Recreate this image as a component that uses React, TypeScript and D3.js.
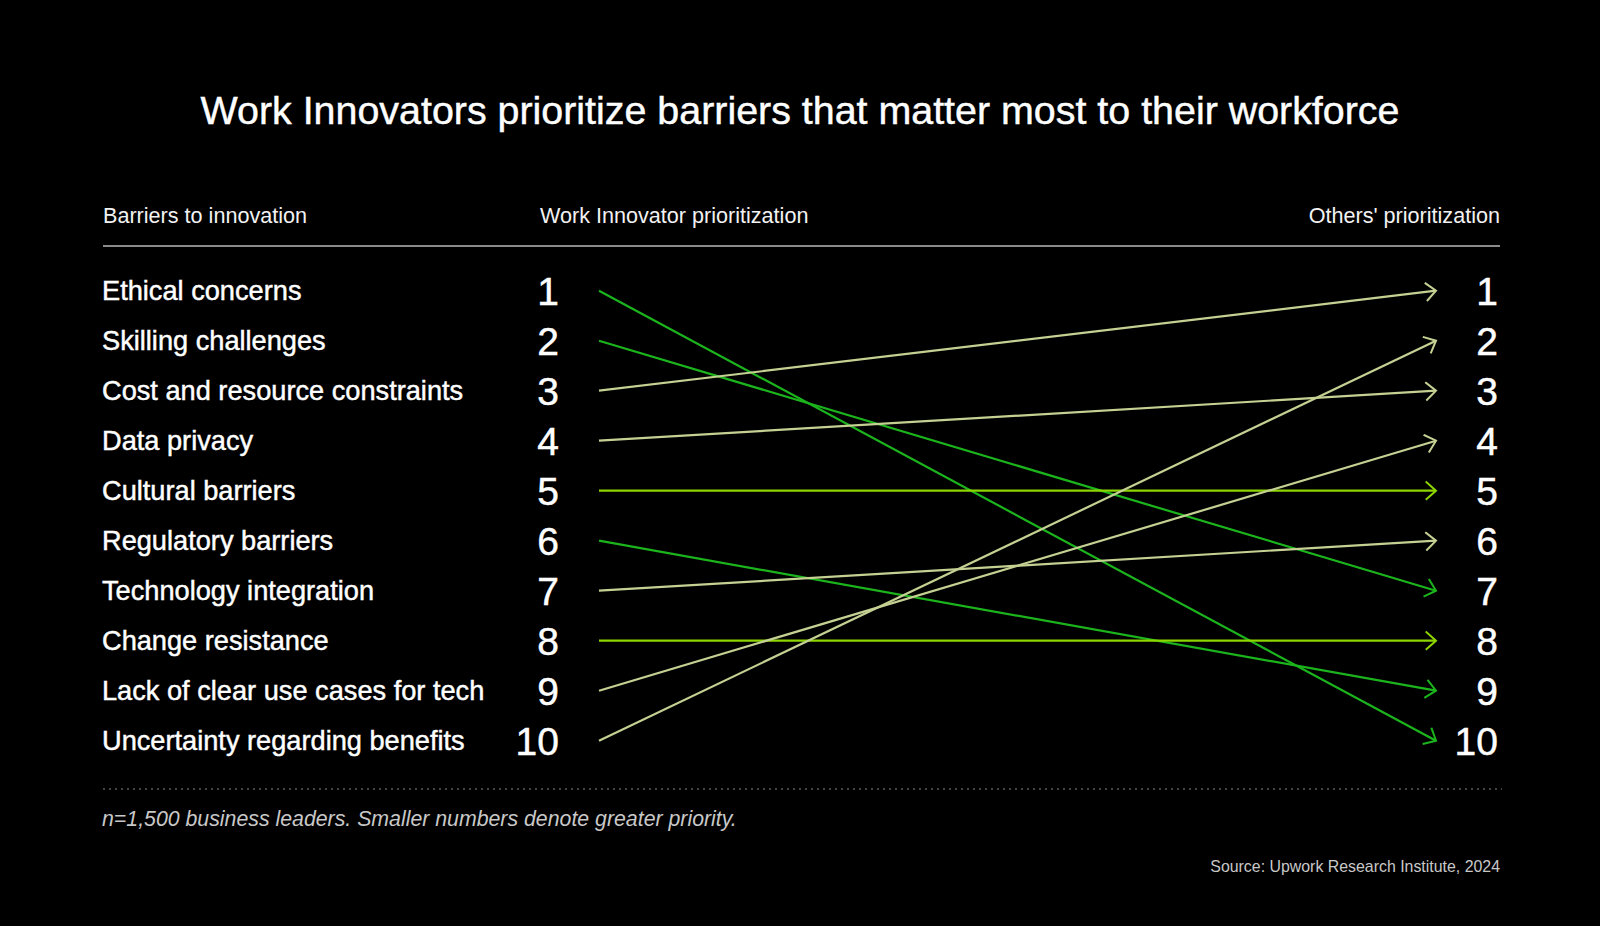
import React, { useEffect } from 'react';
import * as d3 from 'd3';

// Barrier names in Work Innovators' order (rank 1..10)
const barriers = [
  'Ethical concerns',
  'Skilling challenges',
  'Cost and resource constraints',
  'Data privacy',
  'Cultural barriers',
  'Regulatory barriers',
  'Technology integration',
  'Change resistance',
  'Lack of clear use cases for tech',
  'Uncertainty regarding benefits',
];
const innovatorRank = [1, 2, 3, 4, 5, 6, 7, 8, 9, 10];
const othersRank = [10, 7, 1, 3, 5, 9, 6, 8, 4, 2];
const rankTicks = [1, 2, 3, 4, 5, 6, 7, 8, 9, 10];

const columnHeaders = ['Barriers to innovation', 'Work Innovator prioritization', "Others' prioritization"];
const title = 'Work Innovators prioritize barriers that matter most to their workforce';
const footnote = 'n=1,500 business leaders. Smaller numbers denote greater priority.';
const source = 'Source: Upwork Research Institute, 2024';

const W = 1600;
const H = 926;
const FONT = '"Liberation Sans", Arial, Helvetica, sans-serif';

const colors = {
  lower: '#1cb41c', // others rank it lower
  higher: '#c4d193', // others rank it higher
  same: '#8dd600',
};

const App = () => {
  useEffect(() => {
    document.body.style.margin = '0';
    document.body.style.background = '#000';
  }, []);

  const y = d3.scaleLinear().domain([1, 10]).range([290.7, 740.7]);
  const x = d3.scaleLinear().domain([0, 1]).range([599, 1436]);

  const line = d3.line<[number, number]>().x(d => d[0]).y(d => d[1]);

  const keyFor = (a: number, b: number) => (b > a ? 'lower' : b < a ? 'higher' : 'same');

  // a hairline stroke gives the text a slightly heavier, medium look
  const heavy = { stroke: '#fff', strokeWidth: 0.45 };

  return (
    <svg width={W} height={H} style={{ display: 'block', background: '#000' }} fontFamily={FONT}>
      <defs>
        {Object.entries(colors).map(([k, c]) => (
          <marker
            key={k}
            id={`arrow-${k}`}
            viewBox="-12 -12 14 24"
            refX={0}
            refY={0}
            markerWidth={14}
            markerHeight={24}
            markerUnits="userSpaceOnUse"
            orient="auto"
          >
            <path d="M-9.5,-8.5L0,0L-9.5,8.5" fill="none" stroke={c} strokeWidth={2} strokeLinecap="square" />
          </marker>
        ))}
      </defs>

      <text x={W / 2} y={124} textAnchor="middle" fill="#fff" fontSize={39.4} {...heavy}>
        {title}
      </text>

      {/* column headers */}
      <text x={103} y={222.5} fill="#f2f2f2" fontSize={21.6}>{columnHeaders[0]}</text>
      <text x={540} y={222.5} fill="#f2f2f2" fontSize={21.6}>{columnHeaders[1]}</text>
      <text x={1500} y={222.5} fill="#f2f2f2" fontSize={21.6} textAnchor="end">{columnHeaders[2]}</text>
      <line x1={103} x2={1500} y1={246} y2={246} stroke="#8a8a8a" strokeWidth={2} />

      {/* barrier labels and left ranks */}
      {barriers.map((b, i) => (
        <g key={b}>
          <text x={102} y={y(innovatorRank[i])} dy="0.355em" fill="#fff" fontSize={27.2} {...heavy}>
            {b}
          </text>
          <text x={559} y={y(innovatorRank[i])} dy="0.358em" fill="#fff" fontSize={39} textAnchor="end" {...heavy}>
            {innovatorRank[i]}
          </text>
        </g>
      ))}

      {/* right rank column */}
      {rankTicks.map(r => (
        <text key={r} x={1498} y={y(r)} dy="0.358em" fill="#fff" fontSize={39} textAnchor="end" {...heavy}>
          {r}
        </text>
      ))}

      {/* slope arrows */}
      {barriers.map((b, i) => {
        const a = innovatorRank[i];
        const o = othersRank[i];
        const k = keyFor(a, o);
        return (
          <path
            key={`l-${b}`}
            d={line([[x(0), y(a)], [x(1), y(o)]]) || ''}
            fill="none"
            stroke={colors[k]}
            strokeWidth={2.2}
            markerEnd={`url(#arrow-${k})`}
          />
        );
      })}

      <line x1={103} x2={1502} y1={789} y2={789} stroke="#5a5a5a" strokeWidth={1.5} strokeDasharray="2 4" />

      <text x={102} y={826} fill="#c8c8c8" fontSize={21.3} fontStyle="italic">
        {footnote}
      </text>
      <text x={1500} y={872} fill="#c8c8c8" fontSize={15.9} textAnchor="end">
        {source}
      </text>
    </svg>
  );
};

export default App;
